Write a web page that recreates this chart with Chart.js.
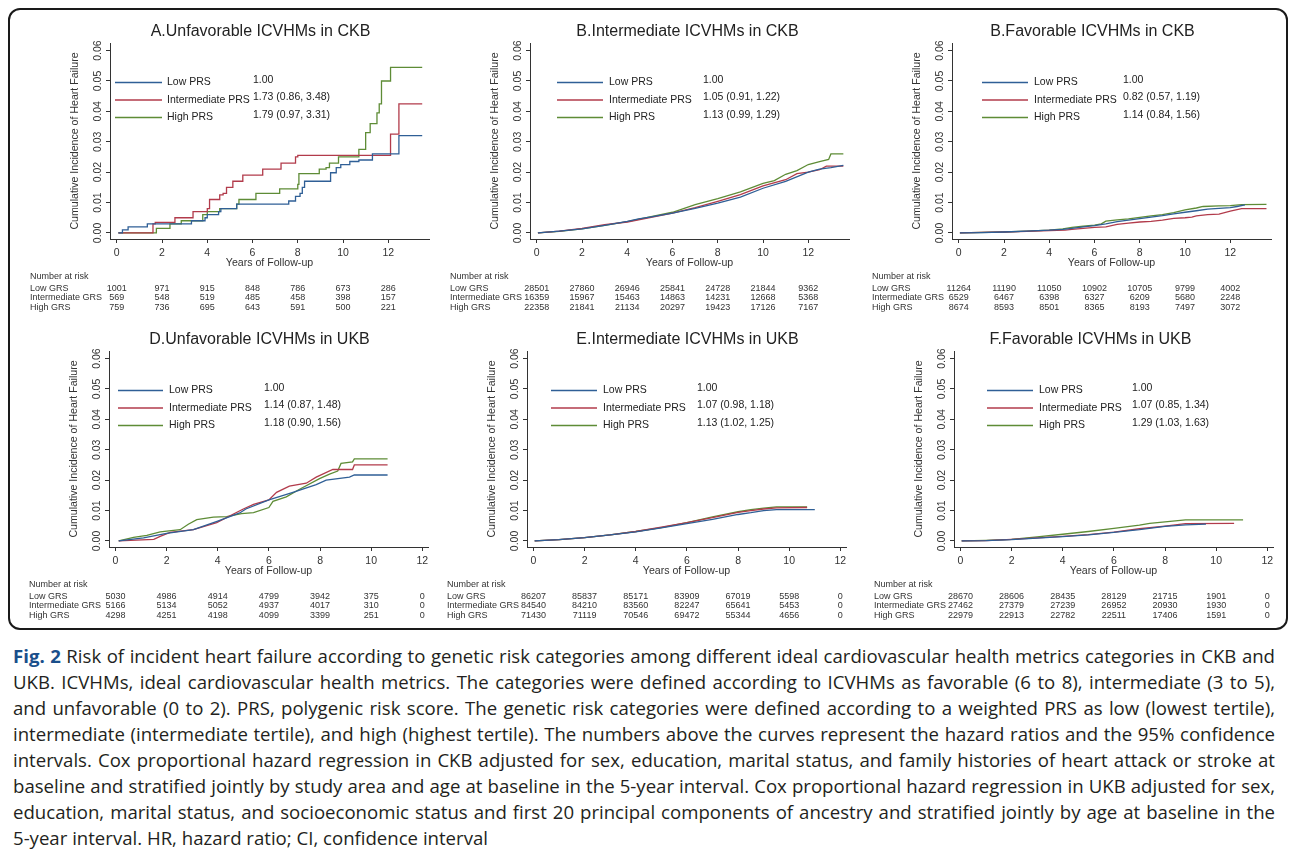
<!DOCTYPE html>
<html>
<head>
<meta charset="utf-8">
<script src="https://cdn.jsdelivr.net/npm/chart.js@4.4.1/dist/chart.umd.min.js"></script>
<style>
  body { margin: 0; background: #fff; width: 1292px; height: 854px; overflow: hidden; position: relative; }
  .frame { position: absolute; left: 8px; top: 8px; width: 1280px; height: 622px; border: 2px solid #1a1a1a; border-radius: 12px; box-sizing: border-box; }
  canvas { position: absolute; }
  #caption { position: absolute; left: 13px; top: 643px; width: 1262px; font-family: "Open Sans", "Noto Sans", sans-serif; font-size: 16px; line-height: 26px; color: #231f20; }
  #caption div.j { text-align: justify; text-align-last: justify; }
  #caption b { color: #1a4f8b; }
</style>
</head>
<body>
<div class="frame"></div>
<div id="caption"></div>
<script>
// ---- data ----
const xTicks = [0, 2, 4, 6, 8, 10, 12];
const yTicks = [0, 0.01, 0.02, 0.03, 0.04, 0.05, 0.06];
const riskTimes = [0, 2, 4, 6, 8, 10, 12];
const seriesNames = ['Low PRS', 'Intermediate PRS', 'High PRS'];
const riskRowNames = ['Low GRS', 'Intermediate GRS', 'High GRS'];

const titles = [
  'A.Unfavorable ICVHMs in CKB', 'B.Intermediate ICVHMs in CKB', 'B.Favorable ICVHMs in CKB',
  'D.Unfavorable ICVHMs in UKB', 'E.Intermediate ICVHMs in UKB', 'F.Favorable ICVHMs in UKB'
];

// A. unfavorable, CKB (step points: time, cumulative incidence after the jump)
const aLow = [[0.07,0],[0.25,0.001],[0.5,0.002],[1.35,0.003],[3.3,0.004],[3.9,0.005],[4.0,0.006],[4.5,0.007],[4.6,0.008],[5.3,0.0095],[7.6,0.0105],[7.9,0.012],[8.1,0.013],[8.2,0.015],[8.3,0.017],[9.45,0.0198],[9.7,0.0215],[9.9,0.0225],[10.3,0.0235],[10.7,0.024],[11.3,0.026],[12.47,0.032],[13.5,0.032]];
const aInt = [[0.07,0],[1.6,0.003],[1.7,0.0035],[2.57,0.005],[3.37,0.007],[4.0,0.008],[4.1,0.011],[4.55,0.0125],[4.7,0.013],[4.85,0.015],[5.13,0.017],[5.57,0.019],[6.45,0.021],[7.26,0.023],[7.9,0.025],[8.0,0.0255],[12.1,0.0325],[12.47,0.0425],[13.5,0.0425]];
const aHigh = [[0.07,0],[1.75,0.0015],[2.35,0.003],[2.85,0.004],[3.8,0.006],[4.0,0.007],[4.55,0.008],[5.3,0.0095],[5.4,0.011],[6.15,0.013],[7.2,0.0145],[8.0,0.016],[8.05,0.0195],[8.95,0.021],[9.25,0.0215],[9.4,0.023],[9.8,0.025],[10.7,0.0275],[11.0,0.033],[11.2,0.036],[11.5,0.0395],[11.6,0.0425],[11.7,0.05],[12.1,0.0545],[13.5,0.0545]];

// B. intermediate, CKB
const bLow = [[0.05,0],[1,0.0006],[2,0.0013],[3,0.0025],[4,0.0038],[4.5,0.0046],[5,0.0052],[6,0.0065],[7,0.0081],[8,0.0098],[9,0.0118],[10,0.0147],[11,0.017],[12,0.02],[12.5,0.021],[13,0.0215],[13.55,0.0222]];
const bInt = [[0.05,0],[1,0.0006],[2,0.0015],[3,0.0027],[4,0.0036],[5,0.005],[6,0.0065],[7,0.0083],[8,0.0104],[9,0.0126],[10,0.0155],[11,0.0175],[11.5,0.0195],[12,0.02],[12.5,0.0208],[12.8,0.022],[13.55,0.022]];
const bHigh = [[0.05,0],[1,0.0005],[2,0.0013],[3,0.0025],[4,0.0037],[5,0.0053],[6,0.0068],[7,0.0093],[8,0.0113],[9,0.0135],[10,0.0163],[10.5,0.0172],[11,0.0193],[11.5,0.0205],[12,0.0225],[12.5,0.0235],[12.9,0.0242],[13.0,0.026],[13.55,0.026]];

// C. favorable, CKB
const cLow = [[0.05,0],[1,0.0001],[2,0.0003],[3,0.0006],[4,0.0009],[4.6,0.0012],[5,0.0015],[5.5,0.002],[6,0.0024],[6.5,0.003],[7,0.0037],[7.5,0.0042],[8,0.0047],[8.5,0.0052],[9,0.0057],[9.5,0.0063],[10,0.0068],[10.5,0.0073],[11,0.0078],[11.5,0.0081],[12,0.0083],[12.3,0.0087],[12.65,0.0092]];
const cInt = [[0.05,0],[1,0.0002],[2,0.0003],[3,0.0005],[4,0.0008],[4.7,0.0009],[5,0.0012],[5.5,0.0015],[6,0.0018],[6.5,0.002],[7,0.0028],[7.5,0.0032],[8,0.0036],[8.5,0.0038],[9,0.0042],[9.5,0.0048],[10,0.005],[10.3,0.0052],[10.5,0.0056],[11,0.006],[11.5,0.0062],[12,0.0072],[12.5,0.008],[13.6,0.008]];
const cHigh = [[0.05,0],[2,0.0003],[3,0.0006],[4,0.0009],[4.6,0.0013],[5,0.0018],[5.5,0.0022],[6,0.0026],[6.3,0.003],[6.5,0.0039],[7,0.0043],[7.5,0.0046],[8,0.0051],[8.5,0.0056],[9,0.006],[9.5,0.0067],[10,0.0076],[10.5,0.0082],[10.8,0.0087],[11.5,0.0089],[12,0.009],[12.5,0.0093],[13.6,0.0094]];

// D. unfavorable, UKB
const dLow = [[0.13,0],[1.1,0.001],[2.0,0.0025],[3.05,0.0037],[4.0,0.0065],[4.86,0.0092],[5.1,0.0105],[6.0,0.0135],[6.94,0.016],[7.85,0.0185],[8.24,0.02],[9.15,0.021],[9.34,0.0217],[10.64,0.0217]];
const dInt = [[0.13,0],[1.5,0.0005],[1.75,0.0015],[2.14,0.0028],[3.05,0.0037],[3.96,0.006],[5.0,0.0105],[5.4,0.012],[6.0,0.0135],[6.3,0.016],[6.8,0.018],[7.46,0.019],[7.85,0.021],[8.5,0.0235],[9.27,0.0235],[9.34,0.025],[10.64,0.025]];
const dHigh = [[0.13,0],[0.71,0.0012],[1.23,0.0018],[1.75,0.003],[2.53,0.0037],[2.85,0.0055],[3.18,0.007],[3.83,0.0078],[4.35,0.008],[4.93,0.009],[5.4,0.0093],[6.0,0.011],[6.16,0.013],[6.68,0.0145],[7.2,0.017],[7.98,0.0205],[8.37,0.022],[8.69,0.023],[8.82,0.0255],[9.27,0.026],[9.34,0.027],[10.64,0.027]];

// E. intermediate, UKB
const eLow = [[0.05,0],[1,0.0004],[2,0.0011],[3,0.002],[4,0.003],[5,0.0043],[6,0.0057],[7,0.0071],[8,0.0087],[8.5,0.0093],[9,0.01],[9.5,0.0103],[11,0.0103]];
const eInt = [[0.05,0],[1,0.0004],[2,0.0011],[3,0.002],[4,0.0031],[5,0.0045],[6,0.006],[7,0.0077],[8,0.0094],[8.5,0.01],[9,0.0105],[9.5,0.0109],[10.7,0.011]];
const eHigh = [[0.05,0],[1,0.0004],[2,0.0011],[3,0.002],[4,0.0031],[5,0.0044],[6,0.006],[7,0.0079],[8,0.0096],[8.5,0.0103],[9,0.0108],[9.5,0.0112],[10.7,0.0112]];

// F. favorable, UKB
const fLow = [[0.05,0],[1,0.0001],[2,0.0004],[3,0.0009],[4,0.0014],[5,0.002],[6,0.0028],[7,0.0037],[8,0.0048],[8.8,0.0053],[9.6,0.0055]];
const fInt = [[0.05,0],[1,0.0001],[2,0.0005],[3,0.001],[4,0.0015],[5,0.0021],[6,0.0029],[7,0.004],[8,0.0049],[8.8,0.0057],[10.7,0.0058]];
const fHigh = [[0.05,0],[1,0.0002],[2,0.0005],[3,0.0013],[4,0.0022],[5,0.0031],[6,0.0041],[7,0.0052],[7.4,0.0058],[8,0.0063],[8.8,0.0069],[11.05,0.0069]];

// hazard ratios (95% CI)
const hrA = ['1.00', '1.73 (0.86, 3.48)', '1.79 (0.97, 3.31)'];
const hrB = ['1.00', '1.05 (0.91, 1.22)', '1.13 (0.99, 1.29)'];
const hrC = ['1.00', '0.82 (0.57, 1.19)', '1.14 (0.84, 1.56)'];
const hrD = ['1.00', '1.14 (0.87, 1.48)', '1.18 (0.90, 1.56)'];
const hrE = ['1.00', '1.07 (0.98, 1.18)', '1.13 (1.02, 1.25)'];
const hrF = ['1.00', '1.07 (0.85, 1.34)', '1.29 (1.03, 1.63)'];

// number at risk
const riskA = [[1001, 971, 915, 848, 786, 673, 286], [569, 548, 519, 485, 458, 398, 157], [759, 736, 695, 643, 591, 500, 221]];
const riskB = [[28501, 27860, 26946, 25841, 24728, 21844, 9362], [16359, 15967, 15463, 14863, 14231, 12668, 5368], [22358, 21841, 21134, 20297, 19423, 17126, 7167]];
const riskC = [[11264, 11190, 11050, 10902, 10705, 9799, 4002], [6529, 6467, 6398, 6327, 6209, 5680, 2248], [8674, 8593, 8501, 8365, 8193, 7497, 3072]];
const riskD = [[5030, 4986, 4914, 4799, 3942, 375, 0], [5166, 5134, 5052, 4937, 4017, 310, 0], [4298, 4251, 4198, 4099, 3399, 251, 0]];
const riskE = [[86207, 85837, 85171, 83909, 67019, 5598, 0], [84540, 84210, 83560, 82247, 65641, 5453, 0], [71430, 71119, 70546, 69472, 55344, 4656, 0]];
const riskF = [[28670, 28606, 28435, 28129, 21715, 1901, 0], [27462, 27379, 27239, 26952, 20930, 1930, 0], [22979, 22913, 22782, 22511, 17406, 1591, 0]];

const captionLines = [
  '<b>Fig. 2</b> Risk of incident heart failure according to genetic risk categories among different ideal cardiovascular health metrics categories in CKB and',
  'UKB. ICVHMs, ideal cardiovascular health metrics. The categories were defined according to ICVHMs as favorable (6 to 8), intermediate (3 to 5),',
  'and unfavorable (0 to 2). PRS, polygenic risk score. The genetic risk categories were defined according to a weighted PRS as low (lowest tertile),',
  'intermediate (intermediate tertile), and high (highest tertile). The numbers above the curves represent the hazard ratios and the 95% confidence',
  'intervals. Cox proportional hazard regression in CKB adjusted for sex, education, marital status, and family histories of heart attack or stroke at',
  'baseline and stratified jointly by study area and age at baseline in the 5-year interval. Cox proportional hazard regression in UKB adjusted for sex,',
  'education, marital status, and socioeconomic status and first 20 principal components of ancestry and stratified jointly by age at baseline in the',
  '5-year interval. HR, hazard ratio; CI, confidence interval'
];

// ---- styling / layout ----
const colors = ['#2f5f96', '#b23b4b', '#5e8c36'];
const FONT = s => s + 'px "Liberation Sans", Arial, sans-serif';
const AXIS = '#333';

const panels = [
  { left: 10,  top: 10,  title: titles[0], series: [aLow, aInt, aHigh], hr: hrA, risk: riskA, xMin: -0.3,  xMax: 13.8,  stepped: true,  titleDx: -9,  lineX: [5, 52],  labelX: 57, hrX: 143 },
  { left: 430, top: 10,  title: titles[1], series: [bLow, bInt, bHigh], hr: hrB, risk: riskB, xMin: -0.3,  xMax: 13.8,  stepped: false, titleDx: -2,  lineX: [27, 73], labelX: 79, hrX: 173 },
  { left: 852, top: 10,  title: titles[2], series: [cLow, cInt, cHigh], hr: hrC, risk: riskC, xMin: -0.3,  xMax: 13.8,  stepped: false, titleDx: -19, lineX: [30, 76], labelX: 82, hrX: 171 },
  { left: 9,   top: 318, title: titles[3], series: [dLow, dInt, dHigh], hr: hrD, risk: riskD, xMin: -0.25, xMax: 12.22, stepped: false, titleDx: -9,  lineX: [9, 54],  labelX: 60, hrX: 155 },
  { left: 427, top: 318, title: titles[4], series: [eLow, eInt, eHigh], hr: hrE, risk: riskE, xMin: -0.25, xMax: 12.22, stepped: false, titleDx: 1,   lineX: [24, 70], labelX: 76, hrX: 170 },
  { left: 854, top: 318, title: titles[5], series: [fLow, fInt, fHigh], hr: hrF, risk: riskF, xMin: -0.25, xMax: 12.22, stepped: false, titleDx: -23, lineX: [33, 79], labelX: 85, hrX: 178 }
];

const legendRows = [39.5, 57, 74.5];
const riskRows = [49.5, 59, 68.5];

function overlay(p, k) {
  return {
    id: 'overlay' + k,
    afterDraw(chart) {
      const { ctx, chartArea: a, scales: { x, y } } = chart;
      ctx.save();
      ctx.textBaseline = 'middle';

      // y tick labels, vertical like Stata
      ctx.fillStyle = AXIS;
      ctx.font = FONT(10.5);
      ctx.textAlign = 'center';
      y.ticks.forEach(t => {
        ctx.save();
        ctx.translate(a.left - 12, y.getPixelForValue(t.value));
        ctx.rotate(-Math.PI / 2);
        ctx.fillText(t.value.toFixed(2), 0, 0);
        ctx.restore();
      });

      // panel title
      ctx.fillStyle = '#222';
      ctx.font = FONT(16);
      ctx.fillText(p.title, (a.left + a.right) / 2 + p.titleDx, a.top - 11);

      // legend with hazard ratios
      ctx.font = FONT(10.5);
      ctx.textAlign = 'left';
      legendRows.forEach((dy, i) => {
        const yy = a.top + dy;
        ctx.strokeStyle = colors[i];
        ctx.lineWidth = 1.3;
        ctx.beginPath();
        ctx.moveTo(a.left + p.lineX[0], yy);
        ctx.lineTo(a.left + p.lineX[1], yy);
        ctx.stroke();
        ctx.fillStyle = '#222';
        ctx.fillText(seriesNames[i], a.left + p.labelX, yy);
        ctx.fillText(p.hr[i], a.left + p.hrX, yy - 2.5);
      });

      // number at risk table
      ctx.font = FONT(9);
      ctx.fillStyle = '#333';
      ctx.fillText('Number at risk', a.left - 80, a.bottom + 38);
      riskRows.forEach((dy, r) => {
        ctx.textAlign = 'left';
        ctx.fillText(riskRowNames[r], a.left - 80, a.bottom + dy);
        ctx.textAlign = 'center';
        p.risk[r].forEach((n, i) => ctx.fillText(String(n), x.getPixelForValue(riskTimes[i]), a.bottom + dy));
      });
      ctx.restore();
    }
  };
}

panels.forEach((p, k) => {
  const cv = document.createElement('canvas');
  cv.width = 425; cv.height = 306;
  cv.style.left = p.left + 'px';
  cv.style.top = p.top + 'px';
  cv.style.width = '425px'; cv.style.height = '306px';
  document.body.appendChild(cv);

  new Chart(cv, {
    type: 'line',
    data: {
      datasets: p.series.map((pts, i) => ({
        label: seriesNames[i],
        data: pts.map(([t, v]) => ({ x: t, y: v })),
        borderColor: colors[i],
        borderWidth: 1.3,
        pointRadius: 0,
        stepped: p.stepped,
        tension: 0,
        fill: false
      }))
    },
    options: {
      responsive: false,
      animation: false,
      events: [],
      layout: { padding: { left: 0, right: 6, top: 33, bottom: 45 } },
      plugins: { legend: { display: false }, title: { display: false }, tooltip: { enabled: false } },
      scales: {
        x: {
          type: 'linear', min: p.xMin, max: p.xMax,
          afterBuildTicks: s => { s.ticks = xTicks.map(v => ({ value: v })); },
          afterFit: s => { s.height = 32; },
          grid: { display: true, drawOnChartArea: false, drawTicks: true, tickLength: 4, color: AXIS },
          border: { display: true, color: AXIS, width: 1 },
          ticks: { autoSkip: false, maxRotation: 0, padding: 3.7, color: AXIS, font: { family: '"Liberation Sans", Arial, sans-serif', size: 10.5 } },
          title: { display: true, text: 'Years of Follow-up', color: AXIS, font: { family: '"Liberation Sans", Arial, sans-serif', size: 10.6 }, padding: { top: 0, bottom: 1.6 } }
        },
        y: {
          type: 'linear', min: -0.002, max: 0.0625,
          afterBuildTicks: s => { s.ticks = yTicks.map(v => ({ value: v })); },
          afterFit: s => { s.width = 100; },
          grid: { display: true, drawOnChartArea: false, drawTicks: true, tickLength: 4, color: AXIS },
          border: { display: true, color: AXIS, width: 1 },
          ticks: { display: false },
          title: { display: true, text: 'Cumulative Incidence of Heart Failure', color: AXIS, font: { family: '"Liberation Sans", Arial, sans-serif', size: 10.6 }, padding: { top: 58.6, bottom: 0 } }
        }
      }
    },
    plugins: [overlay(p, k)]
  });
});

// caption, one justified line per line of the original
const cap = document.getElementById('caption');
captionLines.forEach((html, i) => {
  const d = document.createElement('div');
  d.innerHTML = html;
  if (i < captionLines.length - 1) d.className = 'j';
  cap.appendChild(d);
});
// shrink font so the longest line fits on one line
const probe = document.createElement('span');
probe.style.cssText = 'position:absolute;visibility:hidden;white-space:nowrap;font:inherit';
cap.appendChild(probe);
let widest = 0;
captionLines.forEach(html => { probe.innerHTML = html; widest = Math.max(widest, probe.getBoundingClientRect().width); });
cap.removeChild(probe);
cap.style.fontSize = (16 * 1256 / widest).toFixed(2) + 'px';
</script>
</body>
</html>
